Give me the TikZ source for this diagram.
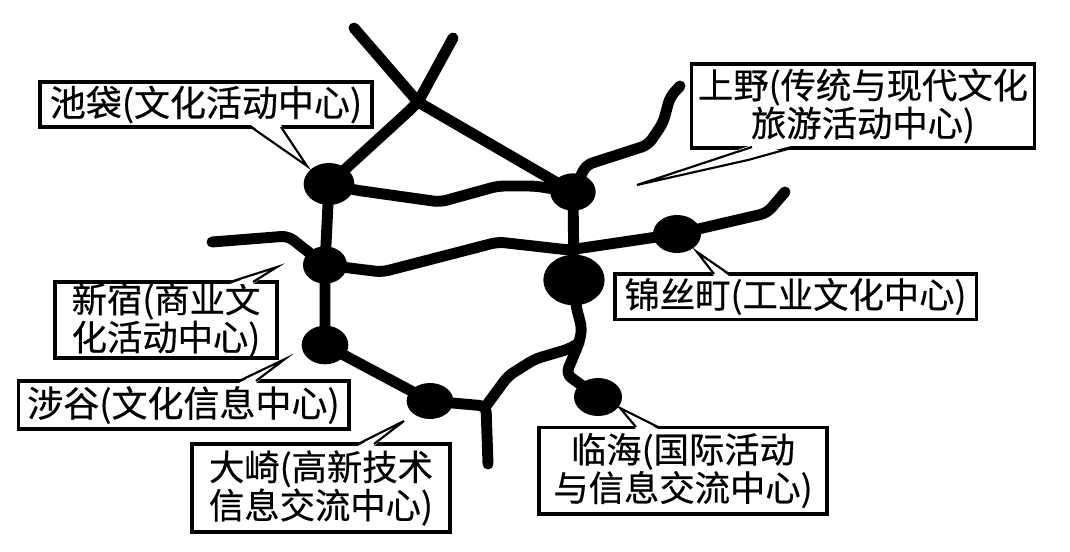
\documentclass[tikz,border=0pt]{standalone}
\usepackage{fontspec}
\newfontfamily\cjk[FakeBold=0.5]{Noto Sans CJK SC}
\usetikzlibrary{shapes.geometric}
\tikzset{
  x=0.75pt,y=-0.75pt,
  road/.style={line width=8.2pt,line cap=round,line join=round,rounded corners=5pt},
  hub/.style={ellipse,fill=black,inner sep=0pt},
  label box/.style={draw,line width=2.5pt,fill=white,inner sep=0pt,align=center,font=\cjk\fontsize{26.5}{26}\selectfont,text=black},
  wide text/.style={font=\cjk\fontsize{27}{26}\selectfont},
  tail/.style={line width=1.6pt,line join=miter},
}
\begin{document}
\begin{tikzpicture}
\useasboundingbox (0,0) rectangle (1070,552);
% hubs
\node[hub,minimum width=38pt,minimum height=31.5pt] (ike) at (329,184) {};
\node[hub,minimum width=33pt,minimum height=28pt] (shj) at (325,265) {};
\node[hub,minimum width=35pt,minimum height=29pt] (shb) at (325,345) {};
\node[hub,minimum width=35pt,minimum height=27pt] (osk) at (430,401) {};
\node[hub,minimum width=34pt,minimum height=28pt] (uen) at (573,192) {};
\node[hub,minimum width=36pt,minimum height=28.5pt] (kin) at (677,234) {};
\node[hub,minimum width=46pt,minimum height=38pt] (mid) at (574,280) {};
\node[hub,minimum width=36pt,minimum height=28.5pt] (rin) at (598,397) {};
% free ends and junctions
\coordinate (x) at (418,102);
\coordinate (endA) at (354,28);
\coordinate (endB) at (453,38);
\coordinate (endU) at (680,86);
\coordinate (endW) at (212,242);
\coordinate (endK) at (785,192);
\coordinate (endS) at (488,464);
\coordinate (y) at (486,406);
\coordinate (bend) at (579,343);
% roads
\draw[road] (endA) -- (x) -- (uen.center);
\draw[road] (endB) -- (x) -- (410,110) -- (ike.center);
\draw[road] (ike.center) -- (355,190) -- (440,202) -- (498,186) -- (535,186) -- (uen.center);
\draw[road] (uen.center) -- (586,165) -- (648,145) -- (663,123) -- (670,97) -- (endU);
\draw[road] (ike.center) -- (shj.center) -- (shb.center);
\draw[road] (endW) -- (288,236) -- (shj.center);
\draw[road] (shj.center) -- (382,272) -- (498,242) -- (569,250) -- (kin.center);
\draw[road] (kin.center) -- (767,213) -- (endK);
\draw[road] (uen.center) -- (mid.center);
\draw[road] (mid.center) -- (576,306) -- (582,329) -- (bend) -- (566,374) -- (rin.center);
\draw[road] (bend) -- (569,349) -- (535,359) -- (508,376) -- (y);
\draw[road] (shb.center) -- (osk.center) -- (y) -- (endS);
% labels
\node[label box,wide text,minimum width=249pt,minimum height=33.75pt] (ikeL) at (206,104.5) {池袋(文化活动中心)};
\node[label box,minimum width=257pt,minimum height=63pt] (uenL) at (863,106) {上野(传统与现代文化\\旅游活动中心)};
\node[label box,minimum width=166.5pt,minimum height=57pt] (shjL) at (166,320) {新宿(商业文\\化活动中心)};
\node[label box,wide text,minimum width=248pt,minimum height=36pt] (shbL) at (183.5,405) {涉谷(文化信息中心)};
\node[label box,minimum width=193.5pt,minimum height=66pt] (oskL) at (321,488) {大崎(高新技术\\信息交流中心)};
\node[label box,minimum width=271pt,minimum height=34pt] (kinL) at (795.5,296.5) {锦丝町(工业文化中心)};
\node[label box,minimum width=216pt,minimum height=65pt] (rinL) at (683,470.5) {临海(国际活动\\与信息交流中心)};
% callout tails
\coordinate (t1) at (307,166);
\fill[white] (251,125) -- (t1) -- (281,125) -- cycle;
\draw[tail] (251,127) -- (t1) -- (281,127);
\coordinate (t2) at (637,185);
\fill[white] (752,145) -- (t2) -- (795,145) -- cycle;
\draw[tail] (752,147) -- (t2) -- (748,160) -- (795,147);
\coordinate (t3) at (277,267);
\fill[white] (230,284) -- (t3) -- (253,284) -- cycle;
\draw[tail] (230,282) -- (t3) -- (253,282);
\coordinate (t4) at (285,359);
\fill[white] (239,383) -- (t4) -- (256,383) -- cycle;
\draw[tail] (239,381) -- (t4) -- (256,381);
\coordinate (t5) at (404,421);
\fill[white] (358,446) -- (t5) -- (374,446) -- cycle;
\draw[tail] (358,444) -- (t5) -- (374,444);
\coordinate (t6) at (697,252);
\fill[white] (714,276) -- (t6) -- (729,276) -- cycle;
\draw[tail] (714,274) -- (t6) -- (729,274);
\coordinate (t7) at (620,408);
\fill[white] (636,429) -- (t7) -- (658,429) -- cycle;
\draw[tail] (636,427) -- (t7) -- (658,427);
\end{tikzpicture}
\end{document}
